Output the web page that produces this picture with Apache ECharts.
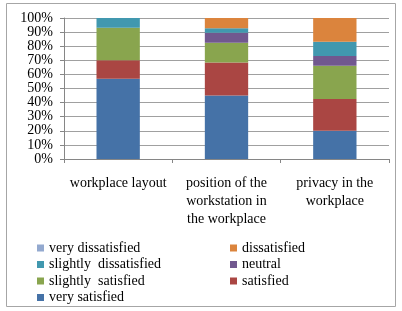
<!DOCTYPE html>
<html><head><meta charset="utf-8">
<script src="https://cdn.jsdelivr.net/npm/echarts@6/dist/echarts.min.js"></script>
<style>html,body{margin:0;padding:0;background:#fff}#c{width:402px;height:311px}</style>
</head><body><div id="c"></div>
<script>
const categories = ['workplace layout', 'position of the\nworkstation in\nthe workplace', 'privacy in the\nworkplace'];
const verySatisfied = [57, 45, 20];
const satisfied = [13, 23.5, 22.6];
const slightlySatisfied = [23, 14, 23.5];
const neutral = [0, 7, 7];
const slightlyDissatisfied = [7, 3.3, 10];
const dissatisfied = [0, 7.2, 16.9];
const veryDissatisfied = [0, 0, 0];
const seriesNames = ['very satisfied','satisfied','slightly  satisfied','neutral','slightly  dissatisfied','dissatisfied','very dissatisfied'];
const seriesData = [verySatisfied, satisfied, slightlySatisfied, neutral, slightlyDissatisfied, dissatisfied, veryDissatisfied];
const colors = ['#4572A7','#AA4643','#89A54E','#71588F','#4198AF','#DB843D','#93A9CF'];
const yTicks = [0,10,20,30,40,50,60,70,80,90,100];

const font = '"Liberation Serif", "Times New Roman", serif';
const chart = echarts.init(document.getElementById('c'), null, {renderer:'canvas'});
const legendText = {fontFamily: font, fontSize: 14, color: '#000', lineHeight: 14};
chart.setOption({
  animation: false,
  color: colors,
  textStyle: {fontFamily: font},
  graphic: [{type:'rect', shape:{x:6.5,y:3.5,width:389,height:303}, style:{fill:'none', stroke:'#A6A6A6', lineWidth:1}, silent:true}],
  grid: {left: 64, right: 13, top: 18, bottom: 152, containLabel: false},
  legend: [
    {data: [seriesNames[6], seriesNames[4], seriesNames[2], seriesNames[0]], orient:'vertical', left: 37, top: 241, height: 100, padding: 0,
     itemWidth: 7, itemHeight: 7, itemGap: 2.5, icon: 'rect', textStyle: legendText},
    {data: [seriesNames[5], seriesNames[3], seriesNames[1]], orient:'vertical', left: 230, top: 241, height: 100, padding: 0,
     itemWidth: 7, itemHeight: 7, itemGap: 2.5, icon: 'rect', textStyle: legendText}
  ],
  xAxis: {
    type: 'category', data: categories,
    axisLine: {lineStyle: {color: '#868686'}},
    axisTick: {show: true, length: 4, lineStyle: {color: '#868686'}},
    axisLabel: {fontFamily: font, fontSize: 14, color: '#000', lineHeight: 18, margin: 15, interval: 0}
  },
  yAxis: {
    type: 'value', min: 0, max: 100, interval: 10,
    axisLine: {show: true, lineStyle: {color: '#868686'}},
    axisTick: {show: true, length: 4, lineStyle: {color: '#868686'}},
    splitLine: {lineStyle: {color: '#A0A0A0'}},
    axisLabel: {fontFamily: font, fontSize: 14, color: '#000', margin: 11,
      formatter: v => yTicks.includes(v) ? v + '%' : ''}
  },
  series: seriesNames.map((n, i) => ({
    name: n, type: 'bar', stack: 'total', data: seriesData[i], barWidth: '40%',
    itemStyle: {color: colors[i]}
  }))
});
</script></body></html>
